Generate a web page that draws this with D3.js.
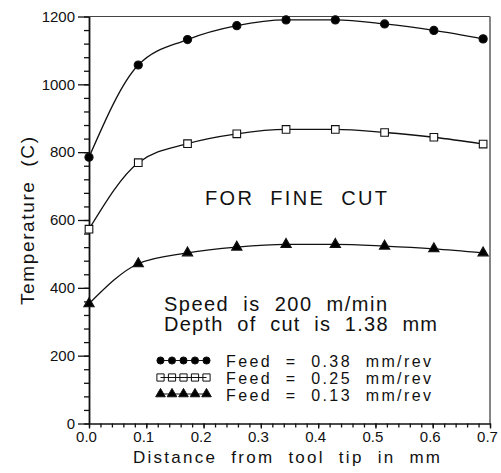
<!DOCTYPE html>
<html>
<head>
<meta charset="utf-8">
<script src="https://cdn.jsdelivr.net/npm/d3@7"></script>
<style>
  html, body { margin: 0; padding: 0; background: #fff; }
  svg { display: block; font-family: "Liberation Sans", Arial, sans-serif; }
  text { white-space: pre; fill: #111; }
</style>
</head>
<body>
<svg id="chart" width="501" height="473"></svg>
<script>
// Distance from the tool tip (mm) where temperature was evaluated
const distance = [0, 0.086, 0.172, 0.258, 0.344, 0.430, 0.516, 0.602, 0.688];

// Temperature (C) for each feed rate
const feed038 = [785, 1057, 1132, 1173, 1190, 1190, 1178, 1159, 1134];
const feed025 = [573, 769, 825, 854, 867, 867, 858, 844, 824];
const feed013 = [353, 471, 503, 520, 528, 528, 523, 515, 503];

const seriesNames = ["Feed  =  0.38  mm/rev", "Feed  =  0.25  mm/rev", "Feed  =  0.13  mm/rev"];

// Axis ticks
const yMajorTicks = [0, 200, 400, 600, 800, 1000, 1200];
const yMinorTicks = d3.range(0, 1201, 40);
const xMajorTicks = [0, 0.1, 0.2, 0.3, 0.4, 0.5, 0.6, 0.7];
const xMinorTicks = d3.range(0, 36).map(i => i * 0.02);

const svg = d3.select("#chart");
const plotLeft = 89, plotRight = 490, plotTop = 16.5, plotBottom = 423.5;

const x = d3.scaleLinear().domain([0, 0.7]).range([plotLeft, plotRight]);
const y = d3.scaleLinear().domain([0, 1200]).range([plotBottom, plotTop]);

// Frame: top and right edges
svg.append("line").attr("x1", plotLeft).attr("x2", plotRight).attr("y1", plotTop).attr("y2", plotTop)
  .attr("stroke", "#444").attr("stroke-width", 1.2);
svg.append("line").attr("x1", plotRight).attr("x2", plotRight).attr("y1", plotTop).attr("y2", plotBottom)
  .attr("stroke", "#666").attr("stroke-width", 1.6);

// Y axis: minor ticks, then major ticks with labels
svg.append("g").attr("transform", `translate(${plotLeft},0)`)
  .call(d3.axisLeft(y).tickValues(yMinorTicks).tickSize(5).tickSizeOuter(0).tickFormat(""))
  .call(g => g.select(".domain").remove())
  .call(g => g.selectAll("line").attr("stroke", "#111").attr("stroke-width", 1.3));
svg.append("g").attr("transform", `translate(${plotLeft},0)`)
  .call(d3.axisLeft(y).tickValues(yMajorTicks).tickSize(11).tickSizeOuter(0).tickPadding(3).tickFormat(d3.format("d")))
  .call(g => g.select(".domain").attr("stroke", "#111").attr("stroke-width", 1.8))
  .call(g => g.selectAll("line").attr("stroke", "#111").attr("stroke-width", 1.3))
  .call(g => g.selectAll("text").attr("font-size", 15).attr("font-family", "Liberation Sans, Arial, sans-serif").attr("fill", "#111"));

// X axis: minor ticks, then major ticks with labels
svg.append("g").attr("transform", `translate(0,${plotBottom})`)
  .call(d3.axisBottom(x).tickValues(xMinorTicks).tickSize(4).tickSizeOuter(0).tickFormat(""))
  .call(g => g.select(".domain").remove())
  .call(g => g.selectAll("line").attr("stroke", "#111").attr("stroke-width", 1.3));
svg.append("g").attr("transform", `translate(0,${plotBottom})`)
  .call(d3.axisBottom(x).tickValues(xMajorTicks).tickSize(5).tickSizeOuter(0).tickPadding(3).tickFormat(d3.format(".1f")))
  .call(g => g.select(".domain").attr("stroke", "#111").attr("stroke-width", 1.6))
  .call(g => g.selectAll("line").attr("stroke", "#111").attr("stroke-width", 1.3))
  .call(g => g.selectAll("text").attr("font-size", 15).attr("dx", -3).attr("font-family", "Liberation Sans, Arial, sans-serif").attr("fill", "#111"));

// Axis titles
svg.append("text")
  .attr("x", 133).attr("y", 463)
  .attr("font-size", 17).attr("textLength", 307).attr("lengthAdjust", "spacing")
  .text("Distance  from  tool  tip  in  mm");
svg.append("text")
  .attr("transform", "translate(34,221) rotate(-90)")
  .attr("text-anchor", "middle")
  .attr("font-size", 19).attr("textLength", 168).attr("lengthAdjust", "spacing")
  .text("Temperature  (C)");

// Series lines and markers
const line = d3.line().x((d, i) => x(distance[i])).y(d => y(d)).curve(d3.curveMonotoneX);
const series = [
  { values: feed038, symbol: d3.symbolCircle, size: 52, fill: "#000" },
  { values: feed025, symbol: d3.symbolSquare, size: 58, fill: "#fff" },
  { values: feed013, symbol: d3.symbolTriangle, size: 46, fill: "#000" }
];

series.forEach(s => {
  svg.append("path").datum(s.values)
    .attr("d", line).attr("fill", "none").attr("stroke", "#111").attr("stroke-width", 1.3);
  svg.append("g").selectAll("path").data(s.values).join("path")
    .attr("transform", (d, i) => `translate(${x(distance[i])},${y(d)})`)
    .attr("d", d3.symbol().type(s.symbol).size(s.size))
    .attr("fill", s.fill).attr("stroke", "#111").attr("stroke-width", 1.1);
});

// Annotations
svg.append("text").attr("x", 205).attr("y", 205)
  .attr("font-size", 20).attr("textLength", 182).attr("lengthAdjust", "spacing")
  .text("FOR  FINE  CUT");
svg.append("text").attr("x", 164).attr("y", 311)
  .attr("font-size", 20).attr("textLength", 223).attr("lengthAdjust", "spacing")
  .text("Speed  is  200  m/min");
svg.append("text").attr("x", 164).attr("y", 331)
  .attr("font-size", 20).attr("textLength", 273).attr("lengthAdjust", "spacing")
  .text("Depth  of  cut  is  1.38  mm");

// Legend
const legendRows = [360.5, 377.5, 394];
const legendMarkX = [160.5, 172, 183.5, 195, 206.5];
const legendSizes = [40, 52, 40];
series.forEach((s, k) => {
  const g = svg.append("g");
  g.append("line").attr("x1", legendMarkX[0]).attr("x2", legendMarkX[4])
    .attr("y1", legendRows[k]).attr("y2", legendRows[k])
    .attr("stroke", "#111").attr("stroke-width", 1.1);
  g.selectAll("path").data(legendMarkX).join("path")
    .attr("transform", d => `translate(${d},${legendRows[k]})`)
    .attr("d", d3.symbol().type(s.symbol).size(legendSizes[k]))
    .attr("fill", s.fill === "#fff" ? "none" : s.fill)
    .attr("stroke", "#111").attr("stroke-width", 1);
  g.append("text").attr("x", 226).attr("y", legendRows[k] + 6.5)
    .attr("font-size", 16).attr("textLength", 205).attr("lengthAdjust", "spacing")
    .text(seriesNames[k]);
});
</script>
</body>
</html>
